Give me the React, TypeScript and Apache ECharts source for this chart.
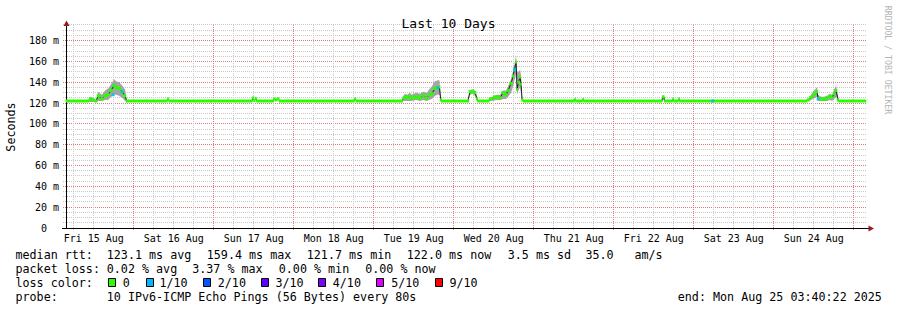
import React, { useEffect, useRef } from 'react';
import * as echarts from 'echarts';

// hours since Fri 15 Aug 00:00
const START_H = 3.673; // Fri 15 Aug 03:40:22
const END_H = 243.673; // Mon 25 Aug 03:40:22
const Y_MAX = 195;

const dayLabels = ['Fri 15 Aug', 'Sat 16 Aug', 'Sun 17 Aug', 'Mon 18 Aug', 'Tue 19 Aug', 'Wed 20 Aug', 'Thu 21 Aug', 'Fri 22 Aug', 'Sat 23 Aug', 'Sun 24 Aug'];
const dayLabelHours = [12, 36, 60, 84, 108, 132, 156, 180, 204, 228];
const yTickValues = [0, 20, 40, 60, 80, 100, 120, 140, 160, 180];

// median rtt (ms): [hour, value]
const medianRtt: [number, number][] = [
  [3.67, 122],
  [10.3, 122], [10.9, 124], [11.8, 123], [12.7, 122], [13.3, 127], [14.4, 124], [15.4, 127], [16.3, 128], [17.2, 132], [18.1, 137], [18.7, 135], [19.6, 134], [20.5, 131], [21.4, 127], [21.9, 122],
  [33.9, 122], [34.3, 124], [34.7, 122],
  [59.4, 122], [59.8, 125], [60.2, 122.5], [60.6, 124.5], [61.0, 122],
  [65.8, 122], [66.1, 124], [66.7, 123], [67.3, 124], [67.9, 122],
  [90.0, 122], [90.4, 124], [90.9, 122],
  [104.5, 122], [104.9, 125], [105.4, 126], [106.1, 125], [106.8, 126.5], [107.4, 124.5], [108.7, 126], [109.9, 124.5], [110.8, 127.5], [111.9, 125], [112.6, 128], [113.4, 129], [114.4, 134], [115.2, 134.7], [115.7, 135.6], [116.1, 123], [116.5, 122],
  [124.2, 122], [124.9, 131], [125.6, 131.5], [126.4, 130], [127.0, 124], [127.3, 122],
  [130.3, 122], [130.9, 124], [133.0, 126], [133.9, 125], [134.8, 130], [135.7, 128], [136.3, 132], [137.2, 139], [137.8, 146], [138.2, 152], [138.7, 159.4], [139.0, 133], [139.4, 140], [139.9, 145], [140.2, 138], [140.5, 123], [141.1, 122],
  [156.1, 122], [156.4, 123.5], [156.7, 122], [158.5, 122], [158.8, 123.5], [159.1, 122],
  [182.4, 122], [182.7, 126], [183.0, 126], [183.3, 122],
  [185.5, 122], [185.8, 124], [186.1, 122], [187.3, 122], [187.6, 124], [187.9, 122],
  [225.7, 122], [226.3, 123], [227.2, 125.5], [227.8, 127.6], [228.4, 129.5], [229.0, 131], [229.3, 124], [230.2, 124], [231.1, 123.5], [232.0, 125], [232.9, 126.5], [233.5, 125], [234.1, 129], [234.7, 132], [235.3, 123], [235.6, 122],
  [243.67, 122],
];

// smoke (spread of the 10 pings): [hour, low, high]
const smoke: [number, number, number][] = [
  [3.67, 122, 122],
  [10.3, 122, 122], [10.9, 121, 126], [11.8, 121, 125], [12.7, 121, 123], [13.3, 122, 131], [14.4, 122, 128], [15.4, 123, 132], [16.3, 123, 134], [17.2, 126, 138], [18.1, 128, 143], [18.7, 128, 141], [19.6, 127, 140], [20.5, 125, 137], [21.4, 122, 133], [21.9, 122, 123], [22.3, 122, 122],
  [104.5, 122, 122], [104.9, 122, 127], [105.4, 122, 129], [106.1, 122, 128], [106.8, 122, 130], [107.4, 122, 128], [108.7, 123, 130], [109.9, 122, 129], [110.8, 123, 131], [111.9, 122, 130], [112.6, 123, 133], [113.4, 124, 136], [114.4, 127, 141], [115.2, 128, 142], [115.7, 128, 142], [116.1, 122, 126], [116.5, 122, 122],
  [124.2, 122, 122], [124.9, 128, 132], [125.6, 129, 133], [126.4, 127, 132], [127.0, 122, 126], [127.3, 122, 122],
  [130.3, 122, 122], [130.9, 122, 125], [133.0, 123, 128], [133.9, 123, 128], [134.8, 124, 132], [135.7, 124, 132], [136.3, 126, 136], [137.2, 130, 143], [137.8, 136, 151], [138.2, 142, 157], [138.7, 148, 166], [139.0, 128, 150], [139.4, 132, 150], [139.9, 135, 152], [140.2, 128, 146], [140.5, 122, 126], [141.1, 122, 122],
  [182.4, 122, 122], [182.7, 123, 127], [183.0, 123, 127], [183.3, 122, 122],
  [225.7, 122, 122], [226.3, 122, 124], [227.2, 123, 128], [227.8, 124, 131], [228.4, 125, 133], [229.0, 126, 135.5], [229.3, 122, 128], [230.2, 122, 126], [231.1, 122, 126], [232.0, 122, 127], [232.9, 123, 129], [233.5, 122, 128], [234.1, 124, 133], [234.7, 126, 137], [235.3, 122, 126], [235.6, 122, 122],
  [243.67, 122, 122],
];

// samples with 1/10 packet loss: [hour, median]
const lossSamples: [number, number][] = [
  [17.8, 128], [20.5, 131], [115.2, 134.7], [138.2, 152], [197.7, 122], [229.3, 124],
];

const lossColors = [
  { label: '0', color: '#26ff00' },
  { label: '1/10', color: '#00b8ff' },
  { label: '2/10', color: '#0059ff' },
  { label: '3/10', color: '#5e00ff' },
  { label: '4/10', color: '#7e00ff' },
  { label: '5/10', color: '#dd00ff' },
  { label: '9/10', color: '#ff0000' },
];

const MONO = 'DejaVu Sans Mono';

export default function App() {
  const ref = useRef<HTMLDivElement>(null);

  useEffect(() => {
    const chart = echarts.init(ref.current!, undefined, { renderer: 'svg' });

    // grid line values: [value, isMajor]
    const vGrid: [number, number][] = [];
    for (let h = 6; h <= 240; h += 6) vGrid.push([h, h % 24 === 0 ? 1 : 0]);
    const hGrid: [number, number][] = [];
    for (let v = 5; v <= Y_MAX; v += 5) hGrid.push([v, v % 20 === 0 ? 1 : 0]);
    const MINOR = '#c8c8c8';
    const MAJOR = '#dc7c7c';

    const legendFont = { fontFamily: MONO, fontSize: 11.7, fill: '#000', verticalAlign: 'middle', align: 'left' };
    const txt = (x: number, y: number, text: string) => ({
      type: 'text', x, y, silent: true, style: { ...legendFont, text },
    });

    const row1 = 254.5, row2 = 268.5, row3 = 282.5, row4 = 296.5;
    const graphics: any[] = [
      txt(15.5, row1, 'median rtt:'),
      txt(106.8, row1, '123.1 ms avg'),
      txt(206.8, row1, '159.4 ms max'),
      txt(306.8, row1, '121.7 ms min'),
      txt(406.8, row1, '122.0 ms now'),
      txt(507.8, row1, '3.5 ms sd'),
      txt(585.5, row1, '35.0'),
      txt(634.5, row1, 'am/s'),
      txt(15.5, row2, 'packet loss:'),
      txt(106.8, row2, '0.02 % avg'),
      txt(192.2, row2, '3.37 % max'),
      txt(278.8, row2, '0.00 % min'),
      txt(365.2, row2, '0.00 % now'),
      txt(15.5, row3, 'loss color:'),
      txt(15.5, row4, 'probe:'),
      txt(106.8, row4, '10 IPv6-ICMP Echo Pings (56 Bytes) every 80s'),
      txt(677.8, row4, 'end: Mon Aug 25 03:40:22 2025'),
    ];
    const boxX = [108.5, 146.5, 203.5, 261.5, 318.5, 376.5, 435.5];
    const labelX = [122.8, 159.5, 217.8, 275.5, 332.8, 391.2, 449.5];
    lossColors.forEach((lc, i) => {
      graphics.push({
        type: 'rect', silent: true,
        shape: { x: boxX[i], y: 278.5, width: 7, height: 8 },
        style: { fill: lc.color, stroke: '#000', lineWidth: 1 },
      });
      graphics.push(txt(labelX[i], row3, lc.label));
    });
    graphics.push({
      type: 'text', x: 11, y: 127, rotation: Math.PI / 2, silent: true,
      style: { text: 'Seconds', fontFamily: MONO, fontSize: 11.7, fill: '#000', align: 'center', verticalAlign: 'middle' },
    });
    graphics.push({
      type: 'text', x: 888, y: 60, rotation: -Math.PI / 2, silent: true,
      style: { text: 'RRDTOOL / TOBI OETIKER', fontFamily: MONO, fontSize: 8.2, fill: '#b4b4b4', align: 'center', verticalAlign: 'middle' },
    });
    graphics.push({
      type: 'line', silent: true, z: 10,
      shape: { x1: 62, y1: 228.5, x2: 869, y2: 228.5 },
      style: { stroke: '#000', lineWidth: 1 },
    });
    graphics.push({
      type: 'polygon', silent: true, z: 10,
      shape: { points: [[63.5, 26], [69.5, 26], [66.5, 20.5]] },
      style: { fill: '#9b1a1a' },
    });
    graphics.push({
      type: 'polygon', silent: true, z: 10,
      shape: { points: [[868.5, 225.5], [868.5, 231.5], [874, 228.5]] },
      style: { fill: '#9b1a1a' },
    });

    const crisp = (p: number) => Math.floor(p) + 0.5;
    const n = medianRtt.length;

    chart.setOption({
      animation: false,
      backgroundColor: '#fff',
      title: {
        text: 'Last 10 Days',
        left: 'center',
        top: 12,
        textStyle: { fontFamily: MONO, fontSize: 13, fontWeight: 'normal', color: '#000' },
      },
      grid: { left: 66, right: 31, top: 25, bottom: 82, containLabel: false, outerBoundsMode: 'none' },
      xAxis: {
        type: 'value',
        min: START_H,
        max: END_H,
        axisLine: { show: true, lineStyle: { color: '#000', width: 1 } },
        axisTick: { show: false },
        splitLine: { show: false },
        axisLabel: {
          customValues: dayLabelHours,
          formatter: (v: number) => dayLabels[dayLabelHours.indexOf(Math.round(v))] ?? '',
          fontFamily: MONO,
          fontSize: 10,
          color: '#000',
          margin: 5,
        },
      },
      yAxis: {
        type: 'value',
        min: 0,
        max: Y_MAX,
        axisLine: { show: true, lineStyle: { color: '#000', width: 1 } },
        axisTick: { show: false },
        splitLine: { show: false },
        axisLabel: {
          customValues: yTickValues,
          formatter: (v: number) => (v === 0 ? '0\u00a0\u00a0' : `${v} m`),
          fontFamily: MONO,
          fontSize: 10,
          color: '#000',
          margin: 7,
        },
      },
      series: [
        {
          name: 'hgrid',
          type: 'custom',
          data: hGrid,
          encode: { y: 0 },
          silent: true,
          z: 0,
          renderItem: (params: any, api: any) => {
            const v = api.value(0);
            const major = api.value(1) === 1;
            const a = api.coord([START_H, v]);
            const b = api.coord([END_H, v]);
            const y = crisp(a[1]);
            return {
              type: 'line',
              shape: { x1: a[0] - 3, y1: y, x2: b[0], y2: y },
              style: { stroke: major ? MAJOR : MINOR, lineWidth: 1, lineDash: [1, 1] },
            };
          },
        },
        {
          name: 'vgrid',
          type: 'custom',
          data: vGrid,
          encode: { x: 0 },
          silent: true,
          z: 0,
          renderItem: (params: any, api: any) => {
            const h = api.value(0);
            const major = api.value(1) === 1;
            const a = api.coord([h, Y_MAX]);
            const b = api.coord([h, 0]);
            const x = crisp(a[0]);
            return {
              type: 'line',
              shape: { x1: x, y1: a[1], x2: x, y2: b[1] + 2 },
              style: { stroke: major ? MAJOR : MINOR, lineWidth: 1, lineDash: [1, 1] },
            };
          },
        },
        {
          name: 'smoke',
          type: 'custom',
          data: smoke,
          encode: { x: 0, y: [1, 2] },
          silent: true,
          z: 2,
          renderItem: (params: any, api: any) => {
            if (params.dataIndex !== 0) return null;
            const upper = smoke.map((r) => api.coord([r[0], r[2]]));
            const lower = smoke.map((r) => api.coord([r[0], r[1]])).reverse();
            return {
              type: 'polygon',
              shape: { points: upper.concat(lower) },
              style: { fill: '#a4a4a4' },
            };
          },
        },
        {
          name: 'medianLine',
          type: 'line',
          data: medianRtt,
          showSymbol: false,
          lineStyle: { color: '#202020', width: 1 },
          silent: true,
          z: 3,
        },
        {
          name: 'median',
          type: 'custom',
          data: medianRtt,
          encode: { x: 0, y: 1 },
          silent: true,
          z: 4,
          renderItem: (params: any, api: any) => {
            const i = params.dataIndex;
            const p = api.coord([medianRtt[i][0], medianRtt[i][1]]);
            const prev = i > 0 ? api.coord([medianRtt[i - 1][0], medianRtt[i - 1][1]]) : p;
            const next = i < n - 1 ? api.coord([medianRtt[i + 1][0], medianRtt[i + 1][1]]) : p;
            const x0 = i > 0 ? (prev[0] + p[0]) / 2 : p[0];
            const x1 = i < n - 1 ? (p[0] + next[0]) / 2 : p[0];
            return {
              type: 'rect',
              shape: { x: x0 - 0.3, y: p[1] - 1.5, width: x1 - x0 + 0.6, height: 3 },
              style: { fill: '#26ff00' },
            };
          },
        },
        {
          name: 'loss',
          type: 'scatter',
          data: lossSamples,
          symbol: 'rect',
          symbolSize: [3, 3],
          itemStyle: { color: '#00b8ff' },
          silent: true,
          z: 5,
        },
      ],
      graphic: graphics,
    });

    return () => chart.dispose();
  }, []);

  return <div ref={ref} style={{ position: 'fixed', left: 0, top: 0, width: 897, height: 310 }} />;
}
